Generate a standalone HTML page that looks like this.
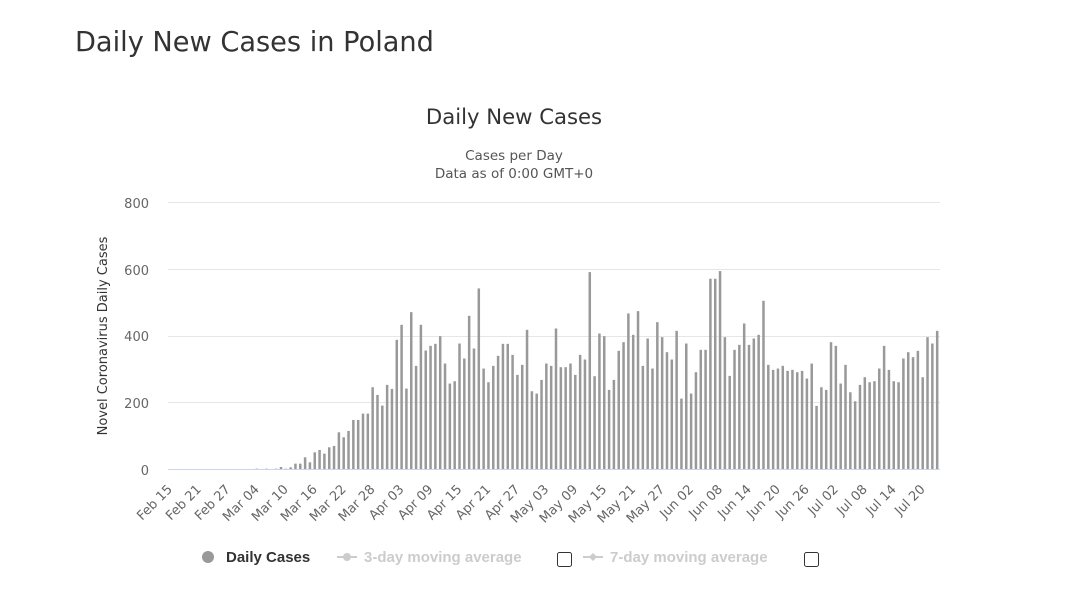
<!DOCTYPE html>
<html><head><meta charset="utf-8"><style>
body{margin:0;background:#fff;width:1077px;height:596px;overflow:hidden;font-family:"DejaVu Sans",sans-serif}
</style></head><body>
<svg id="s" width="1077" height="596" xmlns="http://www.w3.org/2000/svg" font-family="DejaVu Sans, sans-serif">
<text x="75" y="51" font-size="27.2" fill="#333">Daily New Cases in Poland</text>
<text x="514" y="124" font-size="21.2" fill="#333" text-anchor="middle">Daily New Cases</text>
<text x="514" y="160" font-size="13.5" fill="#555" text-anchor="middle">Cases per Day</text>
<text x="514" y="178" font-size="13.5" fill="#555" text-anchor="middle">Data as of 0:00 GMT+0</text>
<g stroke="#e6e6e6" stroke-width="1">
<line x1="168" x2="940" y1="202.5" y2="202.5"/>
<line x1="168" x2="940" y1="269.5" y2="269.5"/>
<line x1="168" x2="940" y1="336.5" y2="336.5"/>
<line x1="168" x2="940" y1="402.5" y2="402.5"/>
</g>
<line x1="168" x2="940" y1="469.5" y2="469.5" stroke="#ccd6eb"/>
<g font-size="13" fill="#666" text-anchor="end">
<text x="149" y="208">800</text><text x="149" y="275">600</text><text x="149" y="341">400</text><text x="149" y="408">200</text><text x="149" y="475">0</text>
</g>
<text transform="translate(107,336) rotate(-90)" font-size="13" fill="#333" text-anchor="middle">Novel Coronavirus Daily Cases</text>
<g id="bars" fill="#999"></g>
<g id="lbl" font-size="13" fill="#666" text-anchor="end"></g>
<circle cx="208" cy="557" r="6" fill="#999"/>
<text x="226" y="562" font-size="15" font-weight="bold" fill="#333" font-family="Liberation Sans, sans-serif">Daily Cases</text>
<line x1="337" x2="357" y1="557" y2="557" stroke="#ccc" stroke-width="2"/><circle cx="347" cy="557" r="4" fill="#ccc"/>
<text x="364" y="562" font-size="15" font-weight="bold" fill="#ccc" font-family="Liberation Sans, sans-serif">3-day moving average</text>
<rect x="557.5" y="552.5" width="14" height="14" rx="2" fill="#fff" stroke="#333"/>
<line x1="583" x2="603" y1="557" y2="557" stroke="#ccc" stroke-width="2"/><path d="M593 553 L597 557 L593 561 L589 557Z" fill="#ccc"/>
<text x="610" y="562" font-size="15" font-weight="bold" fill="#ccc" font-family="Liberation Sans, sans-serif">7-day moving average</text>
<rect x="804.5" y="552.5" width="14" height="14" rx="2" fill="#fff" stroke="#333"/>
</svg>
<script>
var d=[0,0,0,0,0,0,0,0,0,0,0,0,0,0,0,0,0,0,1,0,1,0,1,6,1,5,16,16,35,20,50,57,46,65,69,110,95,114,147,147,166,166,245,222,190,252,240,387,432,241,470,309,432,355,369,375,398,316,256,263,376,331,459,361,541,301,260,309,339,375,375,342,282,312,417,233,226,267,316,309,421,305,305,316,282,342,328,590,278,406,398,237,267,354,380,466,402,473,309,391,301,440,395,350,328,414,211,376,226,290,357,357,570,570,593,395,279,357,372,436,372,391,402,504,312,297,301,309,294,297,290,294,271,316,189,245,237,380,369,256,312,230,203,252,275,260,263,301,369,297,263,260,331,350,335,354,275,395,376,414];
var ns="http://www.w3.org/2000/svg",b=document.getElementById("bars"),l=document.getElementById("lbl");
var k=800/267;
for(var i=0;i<d.length;i++){if(!d[i])continue;var h=d[i]/k;var r=document.createElementNS(ns,"rect");var x=170+i*4.825;
r.setAttribute("x",(x-1.25).toFixed(2));r.setAttribute("y",(469-h).toFixed(2));r.setAttribute("width","2.5");r.setAttribute("height",h.toFixed(2));b.appendChild(r);}
var L=["Feb 15","Feb 21","Feb 27","Mar 04","Mar 10","Mar 16","Mar 22","Mar 28","Apr 03","Apr 09","Apr 15","Apr 21","Apr 27","May 03","May 09","May 15","May 21","May 27","Jun 02","Jun 08","Jun 14","Jun 20","Jun 26","Jul 02","Jul 08","Jul 14","Jul 20"];
for(var j=0;j<L.length;j++){var x=170+j*6*4.825+3;var t=document.createElementNS(ns,"text");t.setAttribute("transform","translate("+x.toFixed(1)+",490) rotate(-45)");t.textContent=L[j];l.appendChild(t);}
</script>
</body></html>
